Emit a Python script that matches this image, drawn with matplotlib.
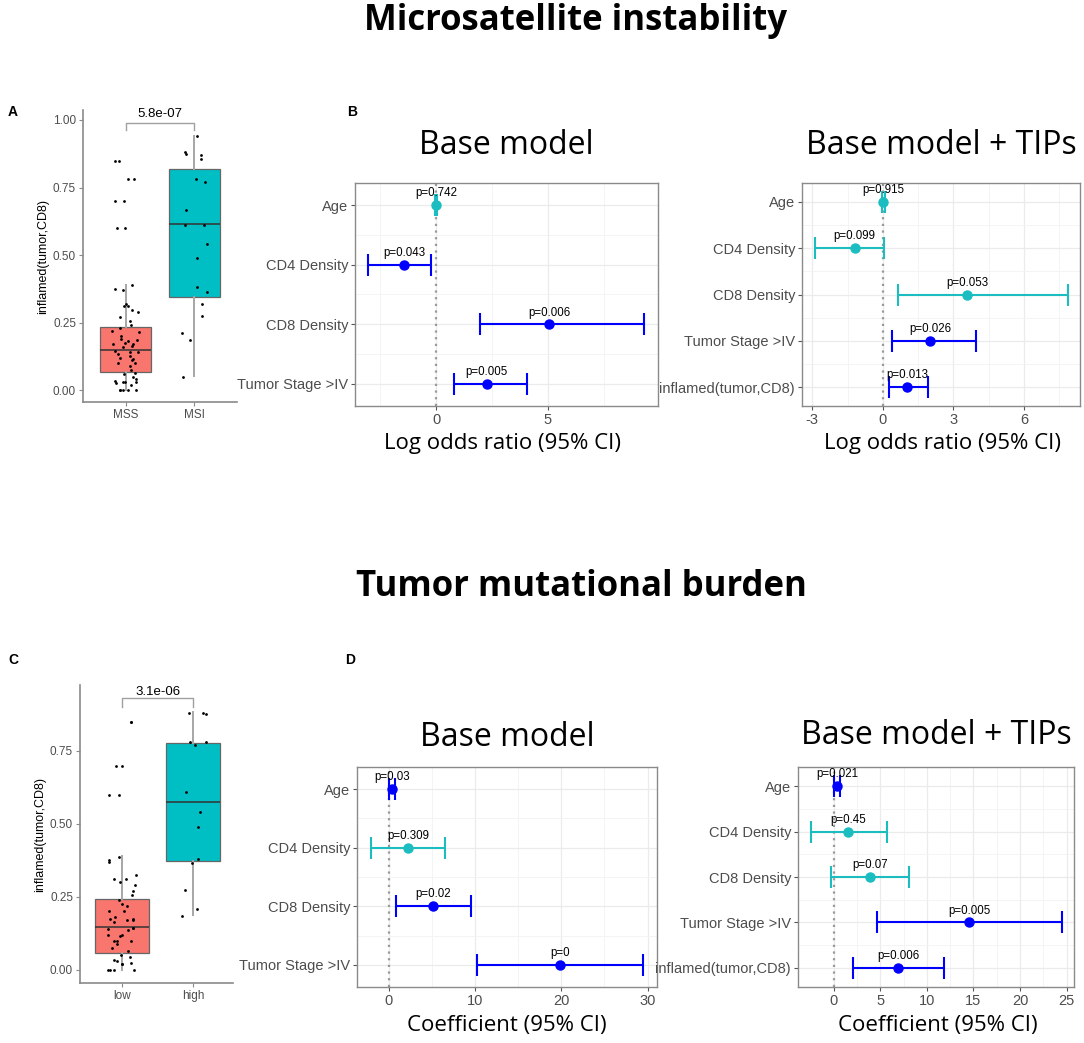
#!/usr/bin/env python3
import numpy as np
import matplotlib
matplotlib.use('Agg')
from matplotlib import pyplot as plt

# figure size in pixels (dpi 100)
W, H = 1084, 1043

# ---------- box plot data (A: MSI status, C: TMB) ----------
msi_groups = ['MSS', 'MSI']
# whislo, q1, median, q3, whishi
mss_box = [0.0, 0.068, 0.148, 0.234, 0.389]
msi_box = [0.053, 0.346, 0.614, 0.819, 0.941]
mss_points = [0.85, 0.85, 0.78, 0.78, 0.70, 0.70, 0.60, 0.60, 0.39, 0.375, 0.37,
              0.32, 0.31, 0.31, 0.295, 0.29, 0.27, 0.255, 0.24, 0.23, 0.22, 0.215,
              0.20, 0.19, 0.185, 0.18, 0.175, 0.17, 0.17, 0.165, 0.16, 0.145, 0.14,
              0.14, 0.135, 0.125, 0.12, 0.115, 0.11, 0.10, 0.10, 0.09, 0.075, 0.065,
              0.06, 0.05, 0.04, 0.035, 0.03, 0.03, 0.03, 0.025, 0.02, 0.0, 0.0, 0.0,
              0.0, 0.0]
msi_points = [0.94, 0.875, 0.88, 0.87, 0.855, 0.78, 0.77, 0.665, 0.61, 0.61, 0.54,
              0.49, 0.38, 0.365, 0.32, 0.275, 0.21, 0.185, 0.05]
msi_pval = '5.8e-07'

tmb_groups = ['low', 'high']
low_box = [0.0, 0.057, 0.146, 0.242, 0.39]
high_box = [0.188, 0.373, 0.576, 0.776, 0.885]
low_points = [0.85, 0.85, 0.70, 0.70, 0.60, 0.60, 0.385, 0.375, 0.37, 0.325, 0.31,
              0.31, 0.30, 0.29, 0.27, 0.255, 0.24, 0.225, 0.22, 0.20, 0.20, 0.18,
              0.175, 0.175, 0.17, 0.17, 0.165, 0.145, 0.145, 0.14, 0.135, 0.12, 0.12,
              0.115, 0.10, 0.10, 0.10, 0.09, 0.075, 0.065, 0.05, 0.045, 0.035, 0.03,
              0.025, 0.02, 0.02, 0.0, 0.0, 0.0, 0.0]
high_points = [0.88, 0.88, 0.875, 0.78, 0.78, 0.77, 0.61, 0.54, 0.49, 0.38, 0.365,
               0.275, 0.21, 0.185]
tmb_pval = '3.1e-06'

# ---------- forest plot data ----------
base_vars = ['Age', 'CD4 Density', 'CD8 Density', 'Tumor Stage >IV']
tips_vars = ['Age', 'CD4 Density', 'CD8 Density', 'Tumor Stage >IV',
             'inflamed(tumor,CD8)']

# B: log odds ratio, base model
msi_base_est = [0.0, -1.43, 5.08, 2.27]
msi_base_lo = [-0.05, -3.03, 1.97, 0.82]
msi_base_hi = [0.05, -0.22, 9.33, 4.09]
msi_base_p = ['0.742', '0.043', '0.006', '0.005']

# B: log odds ratio, base model + TIPs
msi_tips_est = [0.0, -1.2, 3.59, 2.01, 1.02]
msi_tips_lo = [-0.05, -2.9, 0.66, 0.38, 0.28]
msi_tips_hi = [0.08, 0.03, 7.88, 3.96, 1.9]
msi_tips_p = ['0.915', '0.099', '0.053', '0.026', '0.013']

# D: coefficient, base model
tmb_base_est = [0.35, 2.2, 5.14, 19.87]
tmb_base_lo = [0.0, -2.09, 0.85, 10.24]
tmb_base_hi = [0.65, 6.5, 9.5, 29.5]
tmb_base_p = ['0.03', '0.309', '0.02', '0']

# D: coefficient, base model + TIPs
tmb_tips_est = [0.4, 1.57, 3.9, 14.53, 6.95]
tmb_tips_lo = [0.05, -2.47, -0.29, 4.65, 2.08]
tmb_tips_hi = [0.72, 5.69, 8.13, 24.46, 11.8]
tmb_tips_p = ['0.021', '0.45', '0.07', '0.005', '0.006']

plt.rcParams['font.family'] = ['Liberation Sans', 'DejaVu Sans']
plt.rcParams['axes.unicode_minus'] = False

BLUE = '#0000ff'
CYAN = '#1bbdc0'
BOX_COLS = ['#f8766d', '#00bfc4']
TITLE_FONT = ['Open Sans', 'DejaVu Sans']


def ax_at(fig, x0, y0, x1, y1):
    # axes from pixel box (top-left origin)
    return fig.add_axes([x0 / W, 1 - y1 / H, (x1 - x0) / W, (y1 - y0) / H])


def fig_text(fig, x, y, s, **kw):
    fig.text(x / W, 1 - y / H, s, ha='center', va='center', **kw)


def box_panel(ax, groups, boxes, points, pval, ylim, xlim, yticks,
              bracket, seed):
    rng = np.random.default_rng(seed)
    stats = []
    for b in boxes:
        stats.append(dict(whislo=b[0], q1=b[1], med=b[2], q3=b[3], whishi=b[4]))
    parts = ax.bxp(stats, positions=[1, 2], widths=0.75, patch_artist=True,
                   showfliers=False, showcaps=False,
                   boxprops=dict(edgecolor='#666666', linewidth=0.9),
                   medianprops=dict(color='#333333', linewidth=1.1),
                   whiskerprops=dict(color='#a6a6a6', linewidth=1.4))
    for patch, col in zip(parts['boxes'], BOX_COLS):
        patch.set_facecolor(col)
        patch.set_zorder(2)
    for i, pts in enumerate(points):
        jit = rng.uniform(-0.2, 0.2, len(pts))
        ax.scatter(np.full(len(pts), i + 1.0) + jit, pts, s=4, color='black',
                   zorder=4, linewidths=0)
    top, tip, ytxt = bracket
    ax.plot([1, 1, 2, 2], [tip, top, top, tip], color='#a0a0a0', lw=1,
            clip_on=False)
    ax.text(1.5, ytxt, pval, ha='center', va='center', fontsize=9.5,
            clip_on=False)
    ax.set_xlim(*xlim)
    ax.set_ylim(*ylim)
    ax.set_xticks([1, 2], groups)
    ax.set_yticks(yticks, ['%.2f' % v for v in yticks])
    ax.set_ylabel('inflamed(tumor,CD8)', fontsize=9, labelpad=3)
    for s in ['top', 'right']:
        ax.spines[s].set_visible(False)
    for s in ['left', 'bottom']:
        ax.spines[s].set_color('#8a8a8a')
        ax.spines[s].set_linewidth(1.2)
    ax.tick_params(length=3, color='#8a8a8a', labelsize=8.5,
                   labelcolor='#4d4d4d', pad=2)


def forest_panel(ax, names, est, lo, hi, pvals, xlim, xticks, xminor, pad):
    n = len(names)
    ypos = np.arange(n)
    ax.axvline(0, color='#9a9a9a', ls=(0, (1, 2)), lw=1.6, zorder=2)
    for i in range(n):
        col = BLUE if float(pvals[i]) < 0.05 else CYAN
        ax.errorbar(est[i], ypos[i],
                    xerr=[[est[i] - lo[i]], [hi[i] - est[i]]],
                    fmt='o', color=col, ms=6.5, elinewidth=1.5, capsize=8,
                    capthick=1.5, zorder=3)
        ax.annotate('p=' + pvals[i], (est[i], ypos[i]), xytext=(0, 8.5),
                    textcoords='offset points', ha='center', va='center',
                    fontsize=8.3, zorder=4)
    ax.set_xlim(*xlim)
    ax.set_ylim(n - 1 + pad, -pad)
    ax.set_yticks(ypos, names)
    ax.set_xticks(xticks)
    ax.set_xticks(xminor, minor=True)
    ax.set_yticks(ypos[:-1] + 0.5, minor=True)
    ax.grid(which='major', color='#ebebeb', lw=0.9)
    ax.grid(which='minor', color='#f3f3f3', lw=0.6)
    ax.set_axisbelow(True)
    ax.tick_params(which='minor', length=0)
    ax.tick_params(which='major', length=3, color='#555555', labelsize=10.5,
                   labelcolor='#4d4d4d', pad=2)
    for s in ax.spines.values():
        s.set_color('#8a8a8a')
        s.set_linewidth(1)


fig = plt.figure(figsize=(W / 100, H / 100), dpi=100)

# section titles and panel letters
fig_text(fig, 575, 21, 'Microsatellite instability', fontsize=25,
         fontweight='bold', family=TITLE_FONT)
fig_text(fig, 581, 587, 'Tumor mutational burden', fontsize=25,
         fontweight='bold', family=TITLE_FONT)
for letter, x, y in [('A', 13, 112), ('B', 352, 112), ('C', 13, 660),
                     ('D', 350, 660)]:
    fig_text(fig, x, y, letter, fontsize=10, fontweight='bold')

# A
ax = ax_at(fig, 83, 110, 237, 402)
box_panel(ax, msi_groups, [mss_box, msi_box], [mss_points, msi_points],
          msi_pval, (-0.044, 1.037), (0.368, 2.632),
          [0.0, 0.25, 0.5, 0.75, 1.0], (0.99, 0.963, 1.022), seed=3)

# C
ax = ax_at(fig, 80, 685, 233, 983)
box_panel(ax, tmb_groups, [low_box, high_box], [low_points, high_points],
          tmb_pval, (-0.045, 0.976), (0.41, 2.56),
          [0.0, 0.25, 0.5, 0.75], (0.93, 0.90, 0.953), seed=5)

# B
ax = ax_at(fig, 355, 183, 658, 406)
forest_panel(ax, base_vars, msi_base_est, msi_base_lo, msi_base_hi, msi_base_p,
             (-3.63, 9.94), [0, 5], [-2.5, 2.5, 7.5], 0.37)
fig_text(fig, 506, 146, 'Base model', fontsize=23, family=TITLE_FONT)
fig_text(fig, 503, 443, 'Log odds ratio (95% CI)', fontsize=16,
         family=TITLE_FONT)

ax = ax_at(fig, 802, 183, 1080, 406)
forest_panel(ax, tips_vars, msi_tips_est, msi_tips_lo, msi_tips_hi, msi_tips_p,
             (-3.44, 8.38), [-3, 0, 3, 6], [-1.5, 1.5, 4.5, 7.5], 0.41)
fig_text(fig, 941, 146, 'Base model + TIPs', fontsize=23, family=TITLE_FONT)
fig_text(fig, 943, 443, 'Log odds ratio (95% CI)', fontsize=16,
         family=TITLE_FONT)

# D
ax = ax_at(fig, 357, 767, 657, 987)
forest_panel(ax, base_vars, tmb_base_est, tmb_base_lo, tmb_base_hi, tmb_base_p,
             (-3.71, 31.1), [0, 10, 20, 30], [5, 15, 25], 0.38)
fig_text(fig, 507, 738, 'Base model', fontsize=23, family=TITLE_FONT)
fig_text(fig, 507, 1026, 'Coefficient (95% CI)', fontsize=16,
         family=TITLE_FONT)

ax = ax_at(fig, 798, 767, 1074, 987)
forest_panel(ax, tips_vars, tmb_tips_est, tmb_tips_lo, tmb_tips_hi, tmb_tips_p,
             (-3.83, 25.8), [0, 5, 10, 15, 20, 25],
             [2.5, 7.5, 12.5, 17.5, 22.5], 0.425)
fig_text(fig, 936, 736, 'Base model + TIPs', fontsize=23, family=TITLE_FONT)
fig_text(fig, 938, 1026, 'Coefficient (95% CI)', fontsize=16,
         family=TITLE_FONT)

fig.savefig('out.png', dpi=100)
